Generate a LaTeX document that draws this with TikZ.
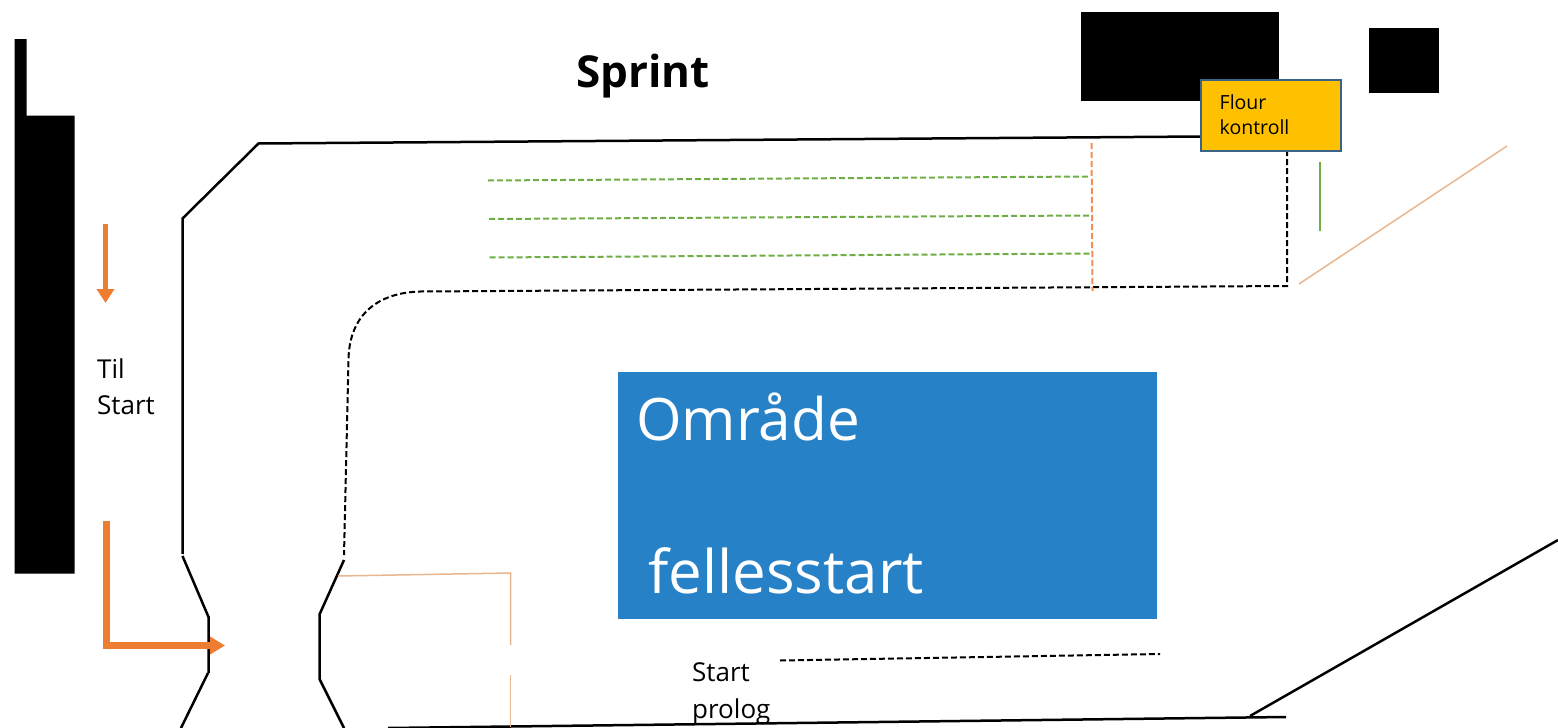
\documentclass[tikz,border=0pt]{standalone}
\usepackage{fontspec}
\setmainfont{Open Sans}
\usetikzlibrary{arrows.meta}
\definecolor{ora}{HTML}{ED7D31}
\definecolor{grn}{HTML}{70AD47}
\definecolor{tan}{HTML}{E8B68F}
\definecolor{blu}{HTML}{2781C6}
\definecolor{ylw}{HTML}{FFC000}
\definecolor{edg}{HTML}{3A6488}
\tikzset{
  wall/.style={draw=black,line width=2.5pt,line join=miter},
  solid block/.style={fill=black,draw=none},
  dashblack/.style={draw=black,line width=2pt,dash pattern=on 6pt off 3pt},
  dashgreen/.style={draw=grn,line width=2pt,dash pattern=on 6pt off 3pt},
  dashorange/.style={draw=ora!85!white,line width=2pt,dash pattern=on 6pt off 3pt},
  thintan/.style={draw=tan,line width=1.5pt},
  bigarrow/.style={draw=ora,line width=5pt,-{Triangle[length=14pt,width=17pt]}},
  lbl/.style={inner sep=0pt,align=left,anchor=north west,text=black},
}
\begin{document}
\begin{tikzpicture}[x=1pt,y=-1pt]
\useasboundingbox (0,0) rectangle (1558,728);
% black blocks
\fill[solid block] (14.5,39) -- (26.5,39) -- (26.5,115.5) -- (74.5,115.5) -- (74.5,573.5) -- (14.5,573.5) -- cycle;
\fill[solid block] (1081,11.5) rectangle (1278.5,100.5);
\fill[solid block] (1369,28) rectangle (1439,93);
% title
\node[lbl,anchor=base west] (title) at (576,87.5) {\fontsize{44}{50}\selectfont\bfseries Sprint};
% roads
\draw[wall] (1201,136.5) -- (258.5,143.5) -- (182.5,218.5) -- (182.5,554);
\draw[wall] (182.5,556) -- (208.5,617) -- (208.5,673);
\draw[wall] (208,673) -- (181,728);
\draw[wall] (344,560) -- (319.5,614.5) -- (319.5,679) -- (344,728);
\draw[wall] (388,728) -- (1286,717);
\draw[wall] (1250,716) -- (1558,540);
% dashed black
\draw[dashblack] (1287,150) -- (1287,286) -- (420,291.5) .. controls (372,293) and (349,320) .. (348.5,360) -- (344,555);
\draw[dashblack] (780,660.5) -- (1160,654);
% green
\draw[dashgreen] (488,180.5) -- (1088,176.5);
\draw[dashgreen] (489,219) -- (1090,215.5);
\draw[dashgreen] (489.5,257.5) -- (1090,253.5);
\draw[grn,line width=2.5pt] (1320,162) -- (1320,231);
% orange dashed
\draw[dashorange] (1091.5,143) -- (1092.5,291);
% tan
\draw[thintan] (1299,284) -- (1507,146);
\draw[thintan] (338,576) -- (510.5,573) -- (510.5,645);
\draw[thintan] (510.5,675) -- (510.5,727);
% arrows
\draw[bigarrow] (105.5,224) -- (105.5,303);
\draw[ora,line width=6.5pt,-{Triangle[length=15pt,width=17pt]},line join=miter] (106.5,521) -- (106.5,645.5) -- (225,645.5);
% Omrade box
\node[fill=blu,minimum width=539pt,minimum height=247pt,inner sep=0pt,anchor=north west] (omr) at (617.5,372) {};
\node[lbl,anchor=base west,text=white] (omr1) at (636,440) {\fontsize{58.5}{70}\selectfont Område};
\node[lbl,anchor=base west,text=white] (omr2) at (648,593.5) {\fontsize{60}{70}\selectfont fellesstart};
% flour
\node[fill=ylw,draw=edg,line width=2.2pt,minimum width=140pt,minimum height=71pt,inner sep=0pt,anchor=north west] (flour) at (1200,79) {};
\node[lbl,anchor=base west] (fl1) at (1219.5,109) {\fontsize{19.5}{24}\selectfont Flour};
\node[lbl,anchor=base west] (fl2) at (1219.5,134) {\fontsize{19.5}{24}\selectfont kontroll};
% labels
\node[lbl,anchor=base west] (til) at (97,378) {\fontsize{26}{30}\selectfont Til};
\node[lbl,anchor=base west] (start) at (97,414) {\fontsize{26}{30}\selectfont Start};
\node[lbl,anchor=base west] (sp) at (692,681) {\fontsize{26}{30}\selectfont Start};
\node[lbl,anchor=base west] (pr) at (692,718) {\fontsize{26}{30}\selectfont prolog};
\end{tikzpicture}
\end{document}
